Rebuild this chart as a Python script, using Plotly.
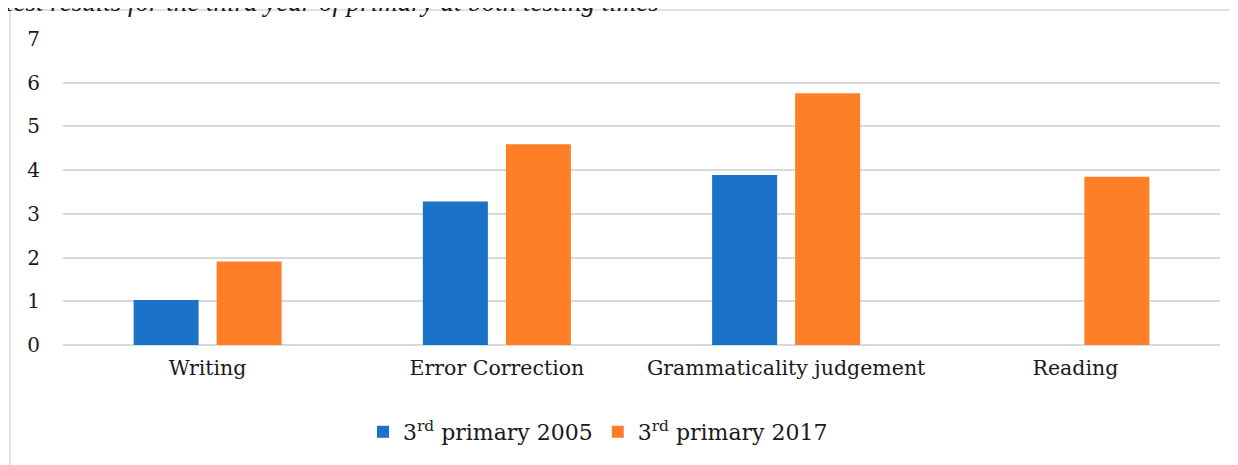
import plotly.graph_objects as go

categories = ["Writing", "Error Correction", "Grammaticality judgement", "Reading"]
series_2005 = [1.03, 3.28, 3.89, None]
series_2017 = [1.91, 4.59, 5.76, 3.85]
series_names = ["3<sup>rd</sup> primary 2005", "3<sup>rd</sup> primary 2017"]
y_ticks = [0, 1, 2, 3, 4, 5, 6, 7]
title_text = "Test results for the third year of primary at both testing times"

FONT = "DejaVu Serif"
OFF = 8  # browser body margin
W, H = 1238 - OFF, 465 - OFF
# plot area in page pixels: x 63..1220, y 39..345
ml = 63 - OFF
mr = 1238 - 1220
mt = 39 - OFF
mb = 465 - 345
pw, ph = W - ml - mr, H - mt - mb

def px_x(x):  # page x -> paper
    return (x - OFF - ml) / pw

def px_y(y):  # page y -> paper
    return (H - mb - (y - OFF)) / ph

fig = go.Figure()
fig.add_trace(go.Bar(x=categories, y=series_2005, name=series_names[0],
                     marker=dict(color="#1a73c8", line=dict(width=0))))
fig.add_trace(go.Bar(x=categories, y=series_2017, name=series_names[1],
                     marker=dict(color="#fe7f27", line=dict(width=0))))

fig.update_layout(
    width=W, height=H,
    margin=dict(l=ml, r=mr, t=mt, b=mb, autoexpand=False),
    paper_bgcolor="white", plot_bgcolor="white",
    barmode="group", bargap=0.426, bargroupgap=0.217,
    font=dict(family=FONT, size=20, color="#1a1a1a"),
    showlegend=True,
    legend=dict(orientation="h", x=px_x(598), xanchor="center", y=px_y(432), yanchor="middle",
                font=dict(size=22, family=FONT), traceorder="normal",
                bgcolor="rgba(0,0,0,0)"),
    xaxis=dict(showgrid=False, showline=False, ticks="", ticklabelstandoff=8,
               tickfont=dict(size=20.5, family=FONT)),
    yaxis=dict(range=[0, 7], tickvals=y_ticks, showgrid=True, gridcolor="#d9d9d9", gridwidth=1.5,
               zeroline=True, zerolinecolor="#d9d9d9", zerolinewidth=1.5, showline=False,
               ticks="", ticklabelstandoff=22, tickfont=dict(size=20, family=FONT)),
)

fig.add_shape(type="rect", xref="paper", yref="paper",
              x0=px_x(10), x1=px_x(1234), y0=px_y(490), y1=px_y(10),
              line=dict(color="#d9d9d9", width=1.5), fillcolor="rgba(0,0,0,0)", layer="below")

fig.add_annotation(text="<i>" + title_text + "</i>", xref="paper", yref="paper",
                   x=px_x(661), y=px_y(2), xanchor="right", yanchor="middle",
                   showarrow=False, font=dict(size=27, family="Liberation Serif", color="#1a1a1a"))

fig.write_html("out.html")
